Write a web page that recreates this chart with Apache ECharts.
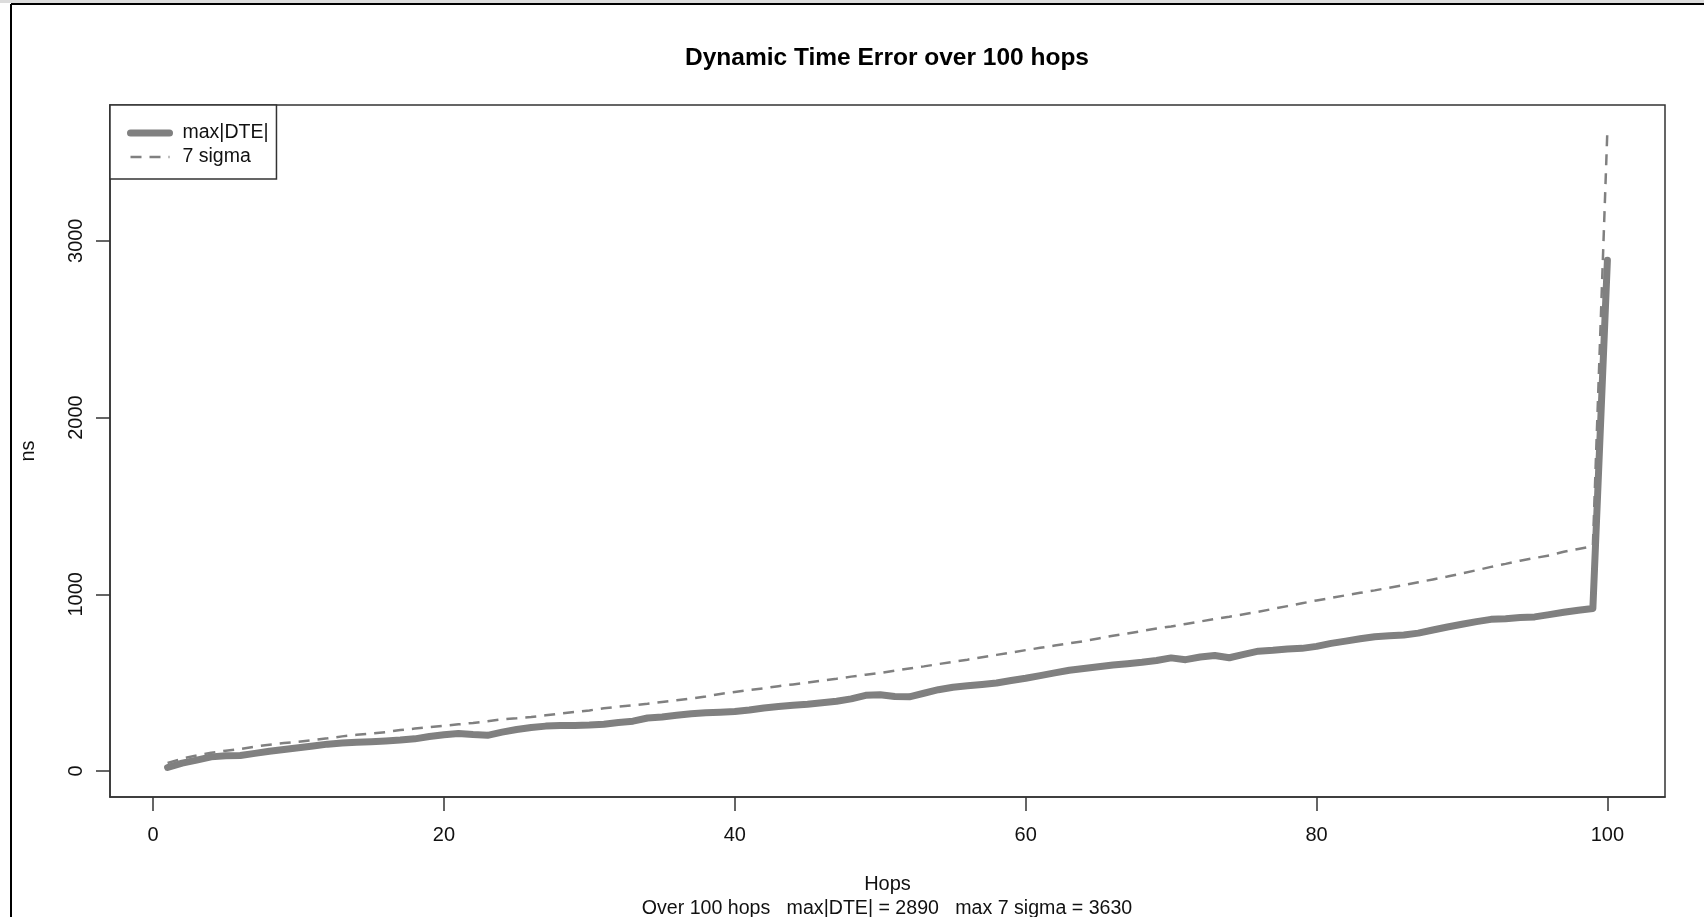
<!DOCTYPE html>
<html>
<head>
<meta charset="utf-8">
<script src="https://cdn.jsdelivr.net/npm/echarts@6/dist/echarts.min.js"></script>
<style>
html,body{margin:0;padding:0;background:#fff;}
#chart{width:1704px;height:917px;}
</style>
</head>
<body>
<div id="chart"></div>
<script>
const hops = [1,2,3,4,5,6,7,8,9,10,11,12,13,14,15,16,17,18,19,20,
  21,22,23,24,25,26,27,28,29,30,31,32,33,34,35,36,37,38,39,40,
  41,42,43,44,45,46,47,48,49,50,51,52,53,54,55,56,57,58,59,60,
  61,62,63,64,65,66,67,68,69,70,71,72,73,74,75,76,77,78,79,80,
  81,82,83,84,85,86,87,88,89,90,91,92,93,94,95,96,97,98,99,100];

const maxDTE = [20,45,62,80,86,88,100,112,122,132,142,152,158,163,166,170,175,182,195,205,
  212,206,202,220,235,246,254,258,258,260,265,275,282,300,306,315,324,330,333,337,
  345,357,365,372,378,386,395,408,428,432,422,420,440,460,474,482,490,498,512,525,
  540,555,570,580,590,600,607,615,625,640,630,645,654,641,660,678,683,690,694,705,
  722,735,748,760,765,770,780,798,815,830,845,858,862,868,872,885,898,910,920,2890];

const sigma7 = [45,70,88,103,115,125,138,149,158,166,175,185,196,205,212,220,232,240,248,256,
  264,272,282,292,298,305,315,325,334,343,355,364,372,381,391,400,410,422,436,447,
  458,468,480,490,500,512,522,534,545,555,568,580,592,605,618,630,644,657,670,684,
  697,710,722,735,750,765,778,792,806,818,832,846,860,873,887,901,917,933,949,965,
  979,994,1008,1022,1037,1052,1068,1084,1100,1118,1136,1155,1172,1190,1205,1220,1240,1256,1272,3630];

const xTicks = [0,20,40,60,80,100];
const yTicks = [0,1000,2000,3000];

const titleText = 'Dynamic Time Error over 100 hops';
const subText = 'Over 100 hops   max|DTE| = 2890   max 7 sigma = 3630';

const FONT = "'Liberation Sans', Arial, Helvetica, sans-serif";
const GRAY = '#808080';
const AXIS = '#333';

const chart = echarts.init(document.getElementById('chart'));
chart.setOption({
  animation:false,
  backgroundColor:'#ffffff',
  grid:{left:110, top:105, right:39, bottom:120, show:true, borderColor:AXIS, borderWidth:1.5},
  legend:{
    orient:'vertical', left:110, top:105,
    backgroundColor:'#fff', borderColor:AXIS, borderWidth:1.5, borderRadius:0,
    padding:[18,8,12,17], itemGap:4, itemWidth:39, itemHeight:14,
    textStyle:{fontSize:19.5, color:'#111', fontFamily:FONT, padding:[0,0,0,8]},
    itemStyle:{opacity:0},
    data:[
      {name:'max|DTE|', itemStyle:{opacity:0}, lineStyle:{color:GRAY, width:7, cap:'round', type:'solid'}},
      {name:'7 sigma', itemStyle:{opacity:0}, lineStyle:{color:GRAY, width:2.5, type:[11,8]}}
    ],
    selectedMode:false
  },
  xAxis:{
    type:'value', min:-2.96, max:103.96,
    name:'Hops', nameLocation:'middle', nameGap:77,
    nameTextStyle:{fontSize:20, color:'#111', fontFamily:FONT},
    axisLine:{show:true, onZero:false, lineStyle:{color:AXIS, width:1.5}},
    axisTick:{show:true, length:14, lineStyle:{color:AXIS, width:1.5}, customValues:xTicks},
    axisLabel:{show:true, fontSize:20, color:'#111', margin:28, fontFamily:FONT, customValues:xTicks, formatter:(v)=>String(v)},
    splitLine:{show:false}
  },
  yAxis:{
    type:'value', min:-147, max:3768,
    name:'ns', nameLocation:'middle', nameGap:72, nameRotate:90,
    nameTextStyle:{fontSize:20, color:'#111', fontFamily:FONT},
    axisLine:{show:true, onZero:false, lineStyle:{color:AXIS, width:1.5}},
    axisTick:{show:true, length:14, lineStyle:{color:AXIS, width:1.5}, customValues:yTicks},
    axisLabel:{show:true, fontSize:20, color:'#111', margin:24, rotate:90, fontFamily:FONT, customValues:yTicks, formatter:(v)=>String(v)},
    splitLine:{show:false}
  },
  graphic:[
    {type:'rect', silent:true, shape:{x:0, y:0, width:1704, height:3}, style:{fill:'#dcdcdc'}},
    {type:'line', silent:true, shape:{x1:11, y1:4, x2:11, y2:917}, style:{stroke:'#000', lineWidth:2}},
    {type:'line', silent:true, shape:{x1:11, y1:4, x2:1704, y2:4}, style:{stroke:'#000', lineWidth:2}},
    {type:'text', silent:true, x:887, y:58.5, style:{text:titleText, fontSize:24.5, fontWeight:'bold', fontFamily:FONT, fill:'#000', textAlign:'center', textVerticalAlign:'middle'}},
    {type:'text', silent:true, x:887, y:909, style:{text:subText, fontSize:19.6, fontFamily:FONT, fill:'#111', textAlign:'center', textVerticalAlign:'middle'}}
  ],
  series:[
    {
      type:'line', name:'max|DTE|', symbol:'none',
      data:hops.map((h,i)=>[h, maxDTE[i]]),
      lineStyle:{color:GRAY, width:7, cap:'round', join:'round'},
      itemStyle:{color:GRAY}
    },
    {
      type:'line', name:'7 sigma', symbol:'none',
      data:hops.map((h,i)=>[h, sigma7[i]]),
      lineStyle:{color:GRAY, width:2.5, type:[11,8]},
      itemStyle:{color:GRAY}
    }
  ]
});
</script>
</body>
</html>
